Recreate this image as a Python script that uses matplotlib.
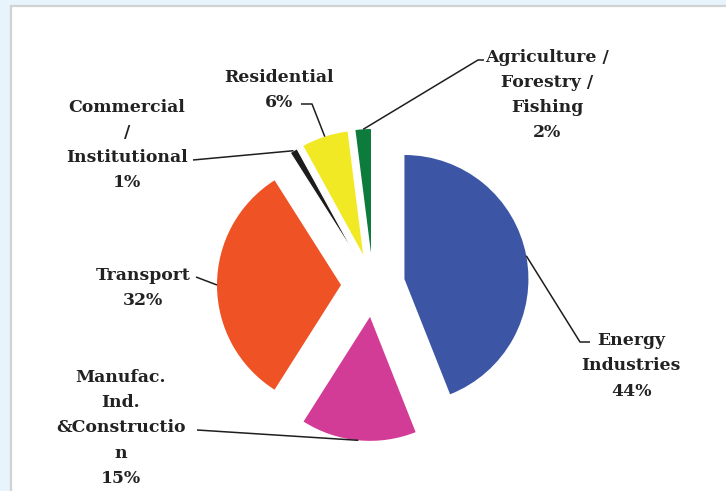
import matplotlib.pyplot as plt
from matplotlib.patches import Rectangle
import numpy as np

# GHG emissions by sector (%), clockwise from 12 o'clock
sectors = ['Energy\nIndustries', 'Manufac.\nInd.\n&Constructio\nn', 'Transport',
           'Commercial\n/\nInstitutional', 'Residential',
           'Agriculture /\nForestry /\nFishing']
shares = [44, 15, 32, 1, 6, 2]
colors = ['#3c56a5', '#d23b96', '#ef5224', '#1c1c1c', '#f2e925', '#0d7b3c']

W, H = 726, 491
fig = plt.figure(figsize=(W / 100, H / 100), dpi=100, facecolor='#e7f4fc')
ax = fig.add_axes([0, 0, 1, 1])

# white panel with a grey frame
ax.add_patch(Rectangle((11, -10), W, H - 6 + 10, facecolor='white',
                       edgecolor='#d2d2d2', lw=1.6, zorder=0))

wedges, _ = ax.pie(shares, colors=colors, startangle=90, counterclock=False,
                   radius=124, center=(373, H - 285), explode=[32] * 6,
                   frame=True, wedgeprops=dict(linewidth=0))
# the 1% sliver shows up as a thin dark line
wedges[3].set_edgecolor('white')
wedges[3].set_linewidth(0.75)

ax.set_xlim(0, W)
ax.set_ylim(0, H)
ax.set_aspect('auto')
ax.axis('off')


def rim(w, frac=0.5):
    th = np.radians(w.theta1 + frac * (w.theta2 - w.theta1))
    return w.center[0] + w.r * np.cos(th), w.center[1] + w.r * np.sin(th)


# label centre and leader bend points (x, y from the top)
label_xy = [(631, 366), (121, 428), (143, 288), (127, 145), (279, 90), (547, 95)]
leaders = [[(580, 342), (590, 342)],
           [(197, 430)],
           [(196, 277)],
           [(193, 160)],
           [(312, 104), (301, 104)],
           [(478, 60), (484, 60)]]

for w, name, pct, (tx, ty), pts in zip(wedges, sectors, shares, label_xy, leaders):
    x0, y0 = rim(w)
    xs = [x0] + [p[0] for p in pts]
    ys = [y0] + [H - p[1] for p in pts]
    ax.plot(xs, ys, color='#1e1e1e', lw=1.1, solid_capstyle='butt')
    ax.text(tx, H - ty, f'{name}\n{pct}%', ha='center', va='center',
            multialignment='center', family='DejaVu Serif', weight='bold',
            fontsize=12.4, linespacing=1.62, color='#222222')

fig.savefig('out.png', dpi=100, facecolor=fig.get_facecolor())
